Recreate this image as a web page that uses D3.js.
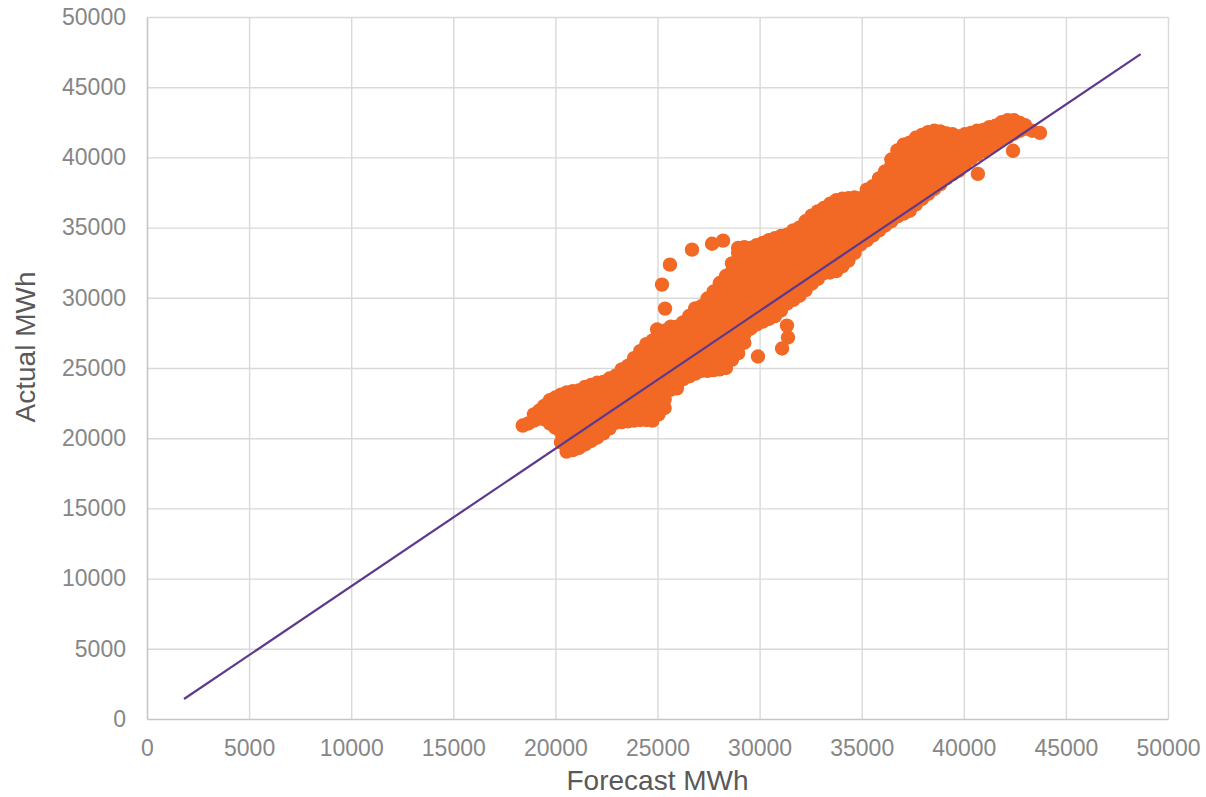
<!DOCTYPE html>
<html>
<head>
<meta charset="utf-8">
<script src="https://cdn.jsdelivr.net/npm/d3@7"></script>
<style>
  body { margin: 0; background: #fff; }
  text { font-family: "Liberation Sans", Arial, sans-serif; }
</style>
</head>
<body>
<svg id="chart" width="1206" height="797"></svg>
<script>
var xTicks = [0, 5000, 10000, 15000, 20000, 25000, 30000, 35000, 40000, 45000, 50000];
var yTicks = [0, 5000, 10000, 15000, 20000, 25000, 30000, 35000, 40000, 45000, 50000];

// [forecast, [actual, actual, ...]], column by column
var cloudLow = [
  [18400, [20900]],
  [18675, [21050]],
  [18950, [21250, 21700]],
  [19200, [21400, 21950]],
  [19450, [21350, 21850, 22300]],
  [19725, [21050, 21650, 22200, 22700]],
  [20000, [20750, 21350, 21950, 22500, 22900]],
  [20275, [19700, 20400, 21050, 21650, 22250, 22750, 23100]],
  [20550, [19050, 19700, 20300, 20950, 21550, 22150, 22700, 23250]],
  [20850, [19150, 19400, 20000, 20650, 21250, 21850, 22450, 23000, 23350]],
  [21150, [19300, 19900, 20550, 21150, 21750, 22350, 22900, 23400]],
  [21450, [19550, 20200, 20850, 21450, 22050, 22650, 23150, 23650]],
  [21750, [19800, 20400, 21000, 21600, 22200, 22750, 23300, 23800]],
  [22050, [20050, 20700, 21300, 21900, 22500, 23050, 23550, 23950]],
  [22350, [20350, 20950, 21550, 22150, 22750, 23400, 24000]],
  [22650, [20700, 21250, 21850, 22450, 23100, 23700, 24250]],
  [22950, [21100, 21650, 22250, 22850, 23450, 24000, 24450]],
  [23250, [21150, 21700, 22300, 22900, 23500, 24050, 24600, 24900]],
  [23550, [21200, 21800, 22400, 23000, 23550, 24100, 24650, 25150]],
  [23850, [21250, 21500, 22100, 22700, 23300, 23850, 24400, 24900, 25400, 25700]],
  [24150, [21300, 21900, 22550, 23150, 23750, 24350, 24950, 25600, 26200]],
  [24450, [21300, 21600, 22200, 22850, 23450, 24050, 24650, 25250, 25900, 26500, 26700]],
  [24750, [21250, 21850, 22500, 23100, 23700, 24350, 24950, 25600, 26250, 26950]],
  [25050, [21700, 22200, 22800, 23400, 24000, 24650, 25250, 25900, 26550, 27200, 27400]],
  [25350, [22150, 22750, 23350, 23950, 24600, 25200, 25800, 26450, 27050, 27650]],
  [25650, [23450, 24050, 24650, 25250, 25850, 26450, 27100, 27700, 27950]]
];
var cloudMid = [
  [25950, [23550, 24150, 24750, 25400, 26000, 26650, 27300, 27950]],
  [26250, [24200, 24750, 25350, 25950, 26550, 27200, 27800, 28250]],
  [26550, [24400, 25000, 25600, 26250, 26850, 27500, 28100, 28700]],
  [26850, [24600, 25300, 25900, 26550, 27200, 27800, 28400, 28950, 29250]],
  [27150, [24800, 25400, 26050, 26650, 27300, 27900, 28550, 29150, 29400]],
  [27450, [24800, 25100, 25750, 26350, 27000, 27600, 28250, 28850, 29500, 29950]],
  [27750, [24850, 25450, 26100, 26700, 27350, 27950, 28600, 29200, 29850, 30450]],
  [28050, [24900, 25150, 25800, 26400, 27050, 27650, 28300, 28900, 29550, 30150, 30800, 31050]],
  [28350, [25000, 25650, 26300, 26950, 27600, 28250, 28950, 29600, 30300, 30950, 31550]],
  [28650, [25600, 26050, 26650, 27300, 27950, 28600, 29250, 29900, 30600, 31250, 31900, 32450]],
  [28950, [26050, 26700, 27350, 28000, 28650, 29300, 29950, 30600, 31250, 31900, 32550, 33200, 33550]],
  [29250, [26800, 27400, 28100, 28750, 29400, 30050, 30700, 31350, 32000, 32650, 33250, 33600]],
  [29550, [27800, 28450, 29100, 29750, 30400, 31050, 31700, 32350, 33000, 33550]],
  [29850, [28100, 28750, 29400, 30050, 30700, 31350, 32000, 32650, 33300, 33750]],
  [30150, [28300, 28950, 29600, 30250, 30900, 31550, 32200, 32850, 33450, 33900]],
  [30450, [28500, 29100, 29750, 30400, 31050, 31700, 32350, 33000, 33600, 34100]],
  [30750, [28700, 29350, 30000, 30650, 31300, 31950, 32600, 33250, 33850, 34250]],
  [31050, [29100, 29650, 30300, 30950, 31600, 32250, 32900, 33550, 34150, 34400]],
  [31350, [29600, 30250, 30900, 31550, 32200, 32850, 33500, 34100, 34500]],
  [31650, [29850, 30500, 31150, 31800, 32450, 33100, 33750, 34350, 34800]],
  [31950, [30150, 30800, 31450, 32100, 32750, 33400, 34050, 34650, 35000]],
  [32250, [30550, 31150, 31800, 32450, 33100, 33750, 34400, 35000, 35450]],
  [32550, [31000, 31650, 32300, 32950, 33600, 34250, 34900, 35450, 35850]],
  [32850, [31350, 32000, 32650, 33300, 33950, 34600, 35250, 35900, 36150]],
  [33150, [31750, 32400, 33050, 33700, 34350, 35000, 35650, 36400]],
  [33450, [31800, 32200, 32850, 33500, 34150, 34800, 35450, 36100, 36700]]
];
var cloudHigh = [
  [33750, [31900, 32550, 33200, 33850, 34500, 35150, 35800, 36450, 36950]],
  [34050, [32250, 32900, 33550, 34200, 34850, 35500, 36150, 36750, 37050]],
  [34350, [32650, 33300, 33950, 34600, 35250, 35900, 36550, 37100]],
  [34650, [33200, 33750, 34350, 35000, 35650, 36300, 36900, 37150]],
  [34950, [33800, 34450, 35100, 35750, 36400, 37100]],
  [35250, [34100, 34700, 35400, 36050, 36700, 37350, 37700]],
  [35550, [34450, 35100, 35750, 36400, 37050, 37650, 37950]],
  [35850, [34800, 35450, 36100, 36750, 37400, 38050, 38500]],
  [36150, [35150, 35800, 36450, 37100, 37750, 38400, 39000]],
  [36450, [35450, 36100, 36800, 37450, 38100, 38750, 39400, 39850]],
  [36750, [35800, 36450, 37100, 37750, 38400, 39050, 39700, 40500]],
  [37050, [36000, 36650, 37300, 37950, 38600, 39250, 39900, 40500, 40900]],
  [37350, [36200, 36850, 37500, 38150, 38800, 39450, 40100, 40700, 41050]],
  [37650, [36650, 37250, 37850, 38500, 39150, 39800, 40450, 41100, 41400]],
  [37950, [37050, 37700, 38350, 39000, 39650, 40300, 40950, 41600]],
  [38250, [37400, 38050, 38700, 39350, 40000, 40650, 41300, 41800]],
  [38550, [37750, 38400, 39050, 39700, 40350, 41000, 41600, 41900]],
  [38850, [38100, 38750, 39400, 40050, 40700, 41350, 41850]],
  [39150, [38500, 39150, 39800, 40450, 41100, 41700]],
  [39450, [38800, 39450, 40100, 40750, 41400, 41650]],
  [39750, [39050, 39700, 40350, 41000, 41500]],
  [40050, [39450, 40100, 40750, 41350, 41650]],
  [40350, [39900, 40550, 41200, 41750]],
  [40650, [40200, 40850, 41450, 41900]],
  [40950, [40450, 41100, 41700, 41950]],
  [41250, [40700, 41350, 41950, 42150]],
  [41550, [40950, 41600, 42250]],
  [41850, [41250, 41900, 42500]],
  [42150, [41450, 42100, 42650]],
  [42450, [41700, 42300, 42650]],
  [42750, [41900, 42450]],
  [43050, [42050]],
  [43350, [41900]]
];
var outliers = [
  [24980, 27740], [25370, 29230], [25220, 30940], [25610, 32360], [26690, 33430],
  [27670, 33850], [28210, 34070], [29920, 25820], [31100, 26390], [31390, 27170],
  [31340, 28020], [40690, 38830], [42410, 40470], [43730, 41750], [43000, 42300]
];
// fitted line end points [forecast, actual]
var fitLine = [[1812, 1424], [48660, 47360]];

var svg = d3.select("#chart"),
    margin = {top: 17, right: 38, bottom: 78, left: 147},
    width = +svg.attr("width") - margin.left - margin.right,
    height = +svg.attr("height") - margin.top - margin.bottom;

var x = d3.scaleLinear().domain([0, 50000]).range([0, width]),
    y = d3.scaleLinear().domain([0, 50000]).range([height, 0]);

var g = svg.append("g")
    .attr("transform", "translate(" + margin.left + "," + margin.top + ")");

// grid
g.append("g")
    .attr("class", "grid")
    .call(d3.axisLeft(y).tickValues(yTicks.slice(1)).tickSize(-width).tickFormat(""))
    .call(function(s) { s.select(".domain").remove(); })
    .selectAll("line").attr("stroke", "#d9d9d9").attr("stroke-width", 1.4);
g.append("g")
    .attr("class", "grid")
    .attr("transform", "translate(0," + height + ")")
    .call(d3.axisBottom(x).tickValues(xTicks.slice(1)).tickSize(-height).tickFormat(""))
    .call(function(s) { s.select(".domain").remove(); })
    .selectAll("line").attr("stroke", "#d9d9d9").attr("stroke-width", 1.4);

// axes
var xAxis = g.append("g")
    .attr("transform", "translate(0," + height + ")")
    .call(d3.axisBottom(x).tickValues(xTicks).tickSize(0).tickPadding(21).tickFormat(d3.format("d")));
var yAxis = g.append("g")
    .call(d3.axisLeft(y).tickValues(yTicks).tickSize(0).tickPadding(21).tickFormat(d3.format("d")));
[xAxis, yAxis].forEach(function(a) {
  a.select(".domain").attr("stroke", "#c6c6c6").attr("stroke-width", 1.6);
  a.selectAll("text")
    .attr("fill", "#868686")
    .style("font-size", "23px")
    .style("font-family", "'Liberation Sans', Arial, sans-serif");
});

var points = [];
[cloudLow, cloudMid, cloudHigh].forEach(function(band) {
  band.forEach(function(col) {
    col[1].forEach(function(a) { points.push([col[0], a]); });
  });
});
outliers.forEach(function(p) { points.push(p); });

g.selectAll(".dot")
    .data(points)
    .enter().append("circle")
    .attr("class", "dot")
    .attr("cx", function(d) { return x(d[0]); })
    .attr("cy", function(d) { return y(d[1]); })
    .attr("r", 7.2)
    .attr("fill", "#f26825");

g.append("path")
    .datum(fitLine)
    .attr("fill", "none")
    .attr("stroke", "#5b3a8e")
    .attr("stroke-width", 2.2)
    .attr("d", d3.line().x(function(d) { return x(d[0]); }).y(function(d) { return y(d[1]); }));

svg.append("text")
    .attr("x", margin.left + width / 2)
    .attr("y", 790)
    .attr("text-anchor", "middle")
    .attr("fill", "#595959")
    .style("font-size", "28px")
    .text("Forecast MWh");

svg.append("text")
    .attr("transform", "translate(35," + 347 + ") rotate(-90)")
    .attr("text-anchor", "middle")
    .attr("fill", "#595959")
    .style("font-size", "28px")
    .text("Actual MWh");
</script>
</body>
</html>
